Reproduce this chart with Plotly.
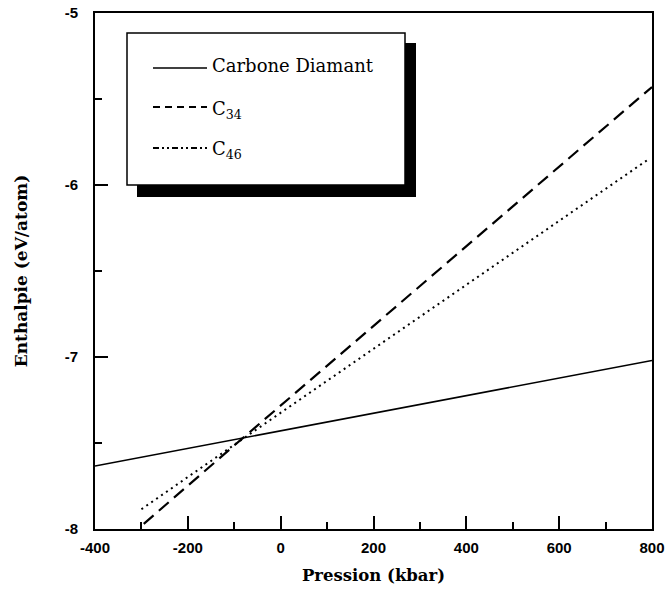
import plotly.graph_objects as go

# Data (pressure in kbar, enthalpy in eV/atom)
diamant_p = [-400, -81, 800]
diamant_h = [-7.634, -7.47, -7.02]

c34_p = [-295, -81, 800]
c34_h = [-7.97, -7.47, -5.43]

c46_p = [-300, -81, 790]
c46_h = [-7.885, -7.475, -5.855]

x_ticks = [-400, -200, 0, 200, 400, 600, 800]
y_ticks = [-8, -7, -6, -5]

W, H = 667, 607
L, R, T, B = 95, 15, 13, 78
PW, PH = W - L - R, H - T - B

def px(x):
    return (x - L) / PW

def py(y):
    return (H - B - y) / PH

fig = go.Figure()
fig.add_trace(go.Scatter(x=diamant_p, y=diamant_h, mode="lines",
                         line=dict(color="black", width=1.6), showlegend=False))
fig.add_trace(go.Scatter(x=c34_p, y=c34_h, mode="lines",
                         line=dict(color="black", width=2.2, dash="13px,7px"), showlegend=False))
fig.add_trace(go.Scatter(x=c46_p, y=c46_h, mode="lines",
                         line=dict(color="black", width=2, dash="2px,4px"), showlegend=False))

shapes = []
# legend shadow and box
shapes.append(dict(type="rect", xref="paper", yref="paper",
                   x0=px(137), x1=px(416), y0=py(197), y1=py(43),
                   fillcolor="black", line=dict(width=0), layer="above"))
shapes.append(dict(type="rect", xref="paper", yref="paper",
                   x0=px(127), x1=px(405), y0=py(185), y1=py(33),
                   fillcolor="white", line=dict(color="black", width=1.5), layer="above"))
# legend line samples
shapes.append(dict(type="line", xref="paper", yref="paper",
                   x0=px(153), x1=px(207), y0=py(68), y1=py(68),
                   line=dict(color="black", width=1.6), layer="above"))
shapes.append(dict(type="line", xref="paper", yref="paper",
                   x0=px(153), x1=px(207), y0=py(107), y1=py(107),
                   line=dict(color="black", width=2, dash="7px,5px"), layer="above"))
shapes.append(dict(type="line", xref="paper", yref="paper",
                   x0=px(153), x1=px(207), y0=py(148), y1=py(148),
                   line=dict(color="black", width=2, dash="6px,3px,2px,3px,2px,3px"), layer="above"))

legend_font = dict(family="DejaVu Serif", size=18, color="black")
annotations = [
    dict(xref="paper", yref="paper", x=px(210), y=py(66), text="Carbone Diamant",
         showarrow=False, xanchor="left", yanchor="middle", font=legend_font),
    dict(xref="paper", yref="paper", x=px(210), y=py(110), text="C<sub>34</sub>",
         showarrow=False, xanchor="left", yanchor="middle", font=legend_font),
    dict(xref="paper", yref="paper", x=px(210), y=py(150), text="C<sub>46</sub>",
         showarrow=False, xanchor="left", yanchor="middle", font=legend_font),
]

tickfont = dict(family="Liberation Sans", size=15, color="black", weight="bold")
xtitlefont = dict(family="DejaVu Serif", size=16.5, color="black", weight="bold")
ytitlefont = dict(family="DejaVu Serif", size=17, color="black", weight="bold")

fig.update_layout(
    width=W, height=H,
    margin=dict(l=L, r=R, t=T, b=B),
    paper_bgcolor="white", plot_bgcolor="white",
    shapes=shapes, annotations=annotations,
    xaxis=dict(range=[-400, 800], tickvals=x_ticks, ticktext=[str(v) for v in x_ticks],
               ticks="inside", ticklen=13, tickwidth=2, tickcolor="black",
               minor=dict(ticks="inside", ticklen=7, tickwidth=2, dtick=100, tick0=0, tickcolor="black"),
               showline=True, linecolor="black", linewidth=2, mirror=True,
               showgrid=False, zeroline=False, tickfont=tickfont, automargin=False,
               ticklabelstandoff=4,
               title=dict(text="Pression (kbar)", font=xtitlefont, standoff=14)),
    yaxis=dict(range=[-8, -5], tickvals=y_ticks, ticktext=[str(v) for v in y_ticks],
               ticks="inside", ticklen=13, tickwidth=2, tickcolor="black",
               minor=dict(ticks="inside", ticklen=7, tickwidth=2, dtick=0.5, tick0=0, tickcolor="black"),
               showline=True, linecolor="black", linewidth=2, mirror=True,
               showgrid=False, zeroline=False, tickfont=tickfont, automargin=False,
               ticklabelstandoff=12,
               title=dict(text="Enthalpie (eV/atom)", font=ytitlefont, standoff=33)),
)

fig.write_html("out.html", config={"displayModeBar": False},
               post_script="document.body.style.margin='0';")
